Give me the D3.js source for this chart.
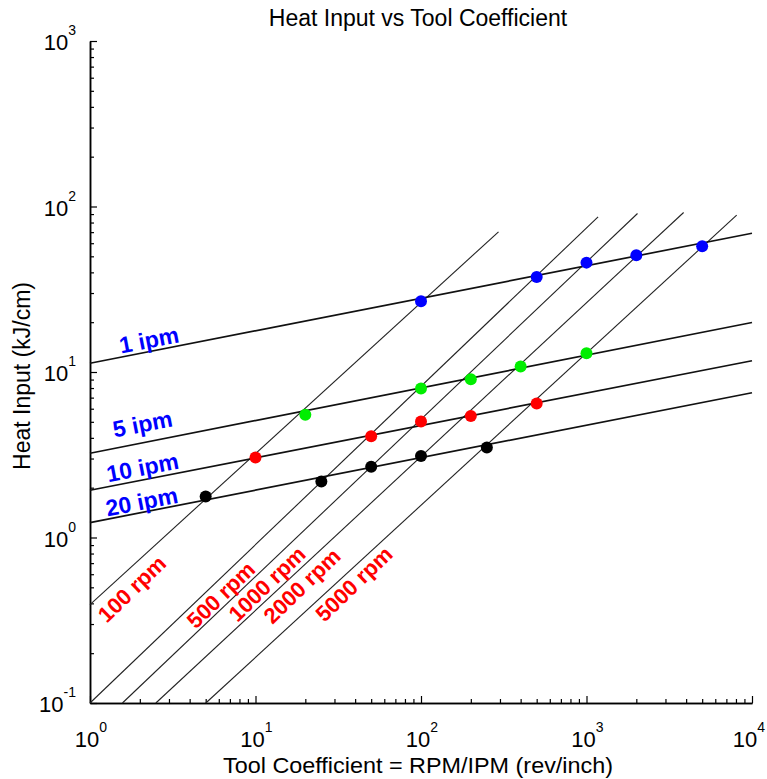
<!DOCTYPE html>
<html>
<head>
<meta charset="utf-8">
<script src="https://cdn.jsdelivr.net/npm/d3@7"></script>
<style>
  html, body { margin: 0; padding: 0; background: #fff; }
  svg { display: block; }
  text { font-family: "Liberation Sans", Arial, sans-serif; }
</style>
</head>
<body>
<svg id="chart" width="767" height="779"></svg>
<script>
// ---------------- data ----------------
const ipmNames = ["1 ipm", "5 ipm", "10 ipm", "20 ipm"];
const ipmLineStartTC = [1, 1, 1, 1];
const ipmLineStartHeat = [11.3, 3.23, 1.93, 1.23];
const ipmLineEndTC = [10000, 10000, 10000, 10000];
const ipmLineEndHeat = [68.9, 19.9, 11.7, 7.49];

const rpmNames = ["100 rpm", "500 rpm", "1000 rpm", "2000 rpm", "5000 rpm"];
const rpmLineStartTC = [1, 1, 1.57, 2.5, 5.01];
const rpmLineStartHeat = [0.393, 0.1, 0.1, 0.1, 0.1];
const rpmLineEndTC = [294, 1175, 2033, 3862, 8080];
const rpmLineEndHeat = [70.3, 86.6, 90.7, 92.0, 88.6];

// measured points (Tool coefficient, Heat input) per feed rate
const tc1 = [100, 500, 1000, 2000, 5000];
const heat1 = [26.8, 37.5, 45.8, 50.7, 57.5];
const tc5 = [20, 100, 200, 400, 1000];
const heat5 = [5.51, 7.96, 9.03, 10.8, 13.0];
const tc10 = [10, 50, 100, 200, 500];
const heat10 = [3.04, 4.09, 5.03, 5.43, 6.46];
const tc20 = [5, 25, 50, 100, 250];
const heat20 = [1.77, 2.18, 2.68, 3.11, 3.50];

const xMajorTicks = [1, 10, 100, 1000, 10000];
const xTickExponents = ["0", "1", "2", "3", "4"];
const yMajorTicks = [0.1, 1, 10, 100, 1000];
const yTickExponents = ["-1", "0", "1", "2", "3"];

const titleText = "Heat Input vs Tool Coefficient";
const xLabelText = "Tool Coefficient = RPM/IPM (rev/inch)";
const yLabelText = "Heat Input (kJ/cm)";

// ---------------- layout ----------------
const L = 90, R = 752, T = 41, B = 703;
const svg = d3.select("#chart");
svg.append("rect").attr("width", 767).attr("height", 779).attr("fill", "#fff");

const x = d3.scaleLog().domain([1, 10000]).range([L, R]);
const y = d3.scaleLog().domain([0.1, 1000]).range([B, T]);

function minorTicks(lo, hi) {
  const out = [];
  for (let d = lo; d < hi; d *= 10) for (let k = 2; k <= 9; k++) out.push(d * k);
  return out;
}

// axes: ticks pointing inward
svg.append("g").attr("transform", `translate(0,${B})`)
  .call(d3.axisBottom(x).tickValues(minorTicks(1, 10000)).tickSize(-4).tickSizeOuter(0).tickFormat(""));
svg.append("g").attr("transform", `translate(0,${B})`)
  .call(d3.axisBottom(x).tickValues(xMajorTicks).tickSize(-7).tickSizeOuter(0).tickFormat(""));
svg.append("g").attr("transform", `translate(${L},0)`)
  .call(d3.axisLeft(y).tickValues(minorTicks(0.1, 1000)).tickSize(-4).tickSizeOuter(0).tickFormat(""));
svg.append("g").attr("transform", `translate(${L},0)`)
  .call(d3.axisLeft(y).tickValues(yMajorTicks).tickSize(-7).tickSizeOuter(0).tickFormat(""));
svg.selectAll(".domain").attr("stroke", "#000").attr("stroke-width", 1.5);
svg.selectAll(".tick line").attr("stroke", "#000").attr("stroke-width", 1.2);

// tick labels with superscript exponents
xMajorTicks.forEach((v, i) => {
  const cx = Math.min(x(v) + 1, 749);
  const t = svg.append("text").attr("x", cx).attr("y", B + 44)
    .attr("text-anchor", "middle").attr("font-size", 22).attr("fill", "#000");
  t.append("tspan").text("10");
  t.append("tspan").attr("font-size", 14).attr("dy", -15).text(xTickExponents[i]);
});
yMajorTicks.forEach((v, i) => {
  const t = svg.append("text").attr("x", L - 14).attr("y", y(v) + 9)
    .attr("text-anchor", "end").attr("font-size", 22).attr("fill", "#000");
  t.append("tspan").text("10");
  t.append("tspan").attr("font-size", 14).attr("dy", -15).text(yTickExponents[i]);
});

// title and axis labels
svg.append("text").attr("x", 418).attr("y", 26).attr("text-anchor", "middle")
  .attr("font-size", 23).attr("fill", "#000").text(titleText);
svg.append("text").attr("x", 418).attr("y", 773).attr("text-anchor", "middle")
  .attr("font-size", 22).attr("textLength", 390).attr("lengthAdjust", "spacingAndGlyphs")
  .attr("fill", "#000").text(xLabelText);
svg.append("text").attr("transform", "translate(30,376) rotate(-90)").attr("text-anchor", "middle")
  .attr("font-size", 23).attr("fill", "#000").text(yLabelText);

// lines
const line = d3.line().x(d => x(d[0])).y(d => y(d[1]));
rpmNames.forEach((n, i) => {
  svg.append("path")
    .attr("d", line([[rpmLineStartTC[i], rpmLineStartHeat[i]], [rpmLineEndTC[i], rpmLineEndHeat[i]]]))
    .attr("fill", "none").attr("stroke", "#222").attr("stroke-width", 1.1);
});
ipmNames.forEach((n, i) => {
  svg.append("path")
    .attr("d", line([[ipmLineStartTC[i], ipmLineStartHeat[i]], [ipmLineEndTC[i], ipmLineEndHeat[i]]]))
    .attr("fill", "none").attr("stroke", "#111").attr("stroke-width", 1.7);
});

// points
const pointSets = [
  { tc: tc1, heat: heat1, color: "#0000ff" },
  { tc: tc5, heat: heat5, color: "#00ee00" },
  { tc: tc10, heat: heat10, color: "#ff0000" },
  { tc: tc20, heat: heat20, color: "#000000" }
];
pointSets.forEach(s => {
  svg.append("g").selectAll("circle").data(s.tc.map((t, i) => [t, s.heat[i]]))
    .join("circle")
    .attr("cx", d => x(d[0])).attr("cy", d => y(d[1])).attr("r", 6)
    .attr("fill", s.color);
});

// annotation labels (pixel layout)
const ipmLabelPos = [[149, 340], [142.5, 424], [142.5, 467.5], [141.7, 501.7]];
ipmNames.forEach((n, i) => {
  svg.append("text")
    .attr("transform", `translate(${ipmLabelPos[i][0]},${ipmLabelPos[i][1]}) rotate(-11)`)
    .attr("text-anchor", "middle").attr("dominant-baseline", "central")
    .attr("font-size", 23).attr("font-weight", "bold").attr("fill", "#0000ff").text(n);
});
const rpmLabelPos = [[132, 589], [221, 595], [267, 584], [302, 586], [354, 584]];
rpmNames.forEach((n, i) => {
  svg.append("text")
    .attr("transform", `translate(${rpmLabelPos[i][0]},${rpmLabelPos[i][1]}) rotate(-44)`)
    .attr("text-anchor", "middle").attr("dominant-baseline", "central")
    .attr("font-size", 22).attr("font-weight", "bold").attr("fill", "#ff0000").text(n);
});
</script>
</body>
</html>
